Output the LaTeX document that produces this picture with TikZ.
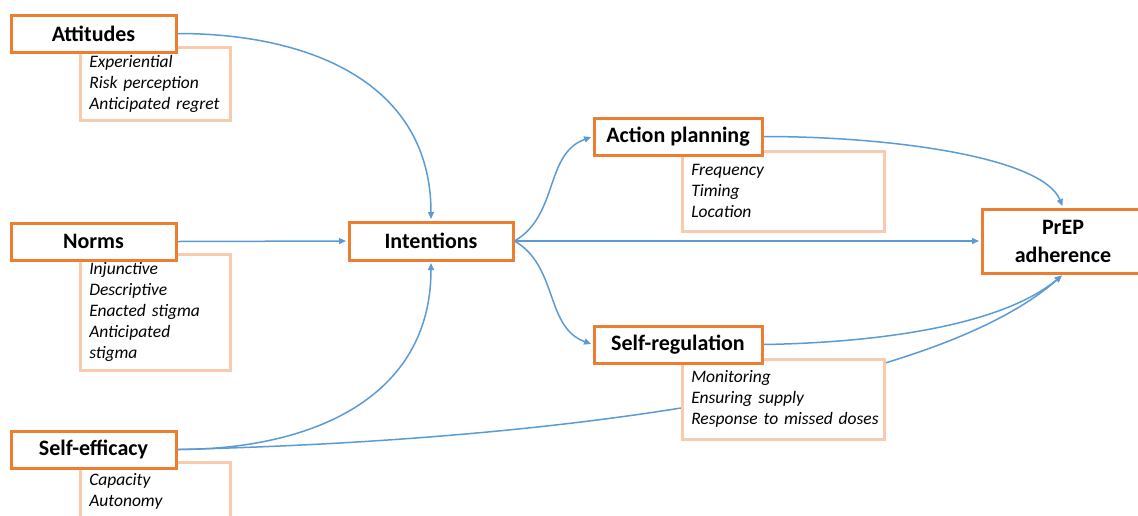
\documentclass[tikz,border=0pt]{standalone}
\usepackage{fontspec}
\setmainfont{Carlito}
\usetikzlibrary{arrows.meta,backgrounds,calc}
\definecolor{boxorange}{HTML}{ED7D31}
\definecolor{peach}{HTML}{F8CBAD}
\definecolor{linkblue}{HTML}{5B9BD5}
\begin{document}
\begin{tikzpicture}[x=1pt,y=-1pt,
  mainbox/.style={draw=boxorange, line width=3pt, fill=white,
    font=\fontsize{22}{28}\selectfont\bfseries, inner sep=0pt, align=center},
  subbox/.style={draw=peach, line width=2.5pt, fill=white,
    font=\fontsize{17.5}{21}\selectfont\itshape, anchor=north west,
    align=left, inner xsep=9pt, inner ysep=0pt},
  link/.style={draw=linkblue, line width=1.5pt, shorten >=1.5pt,
    -{Triangle[length=7pt,width=6pt]}}]
\useasboundingbox (0,0) rectangle (1138,515);
% sub boxes
\node[subbox, minimum width=150, minimum height=73, text width=132] (attsub) at (79,46)
  {\mbox{Experiential}\\\mbox{Risk perception}\\\mbox{Anticipated regret}};
\node[subbox, minimum width=150, minimum height=116, text width=132] (normsub) at (79,253)
  {Injunctive\\Descriptive\\\mbox{Enacted stigma}\\Anticipated\\stigma};
\node[subbox, minimum width=150, minimum height=59, text width=132] (sesub) at (79,461)
  {Capacity\\Autonomy};
\node[subbox, minimum width=202, minimum height=80, text width=184] (apsub) at (681,150)
  {Frequency\\Timing\\Location};
\node[subbox, minimum width=202, minimum height=80, text width=184] (srsub) at (681,358)
  {Monitoring\\\mbox{Ensuring supply}\\\mbox{Response to missed doses}};
% main boxes
\node[mainbox, minimum width=165, minimum height=37] (att) at (93.5,33.5) {Attitudes};
\node[mainbox, minimum width=165, minimum height=37] (norms) at (93.5,241.5) {Norms};
\node[mainbox, minimum width=165, minimum height=37] (se) at (93.5,449.5) {Self-efficacy};
\node[mainbox, minimum width=164, minimum height=38] (int) at (431,241) {Intentions};
\node[mainbox, minimum width=168, minimum height=37] (ap) at (678,136.5) {Action planning};
\node[mainbox, minimum width=168, minimum height=37] (sr) at (678,344.5) {Self-regulation};
\node[mainbox, minimum width=162, minimum height=64] (prep) at (1063,241) {PrEP\\adherence};
% connectors
\begin{scope}[on background layer]
\draw[link] (att.east) to[out=0,in=90,looseness=1.1] (int.north);
\draw[link] (norms.east) -- (int.west);
\draw[link] (se.east) to[out=0,in=-90,looseness=1.1] (int.south);
\draw[link] (se.east) .. controls ($(se.east)+(374,-9)$) and ($(prep.south)+(-133,117)$) .. (prep.south);
\draw[link] (int.east) to[out=30,in=200] (ap.west);
\draw[link] (int.east) to[out=-30,in=160] (sr.west);
\draw[link] (int.east) -- (prep.west);
\draw[link] (ap.east) .. controls ($(ap.east)+(130,0)$) and ($(prep.north)+(-20,-50)$) .. (prep.north);
\draw[link] (sr.east) .. controls ($(sr.east)+(120,-2)$) and ($(prep.south)+(-60,50)$) .. (prep.south);
\end{scope}
\end{tikzpicture}
\end{document}
